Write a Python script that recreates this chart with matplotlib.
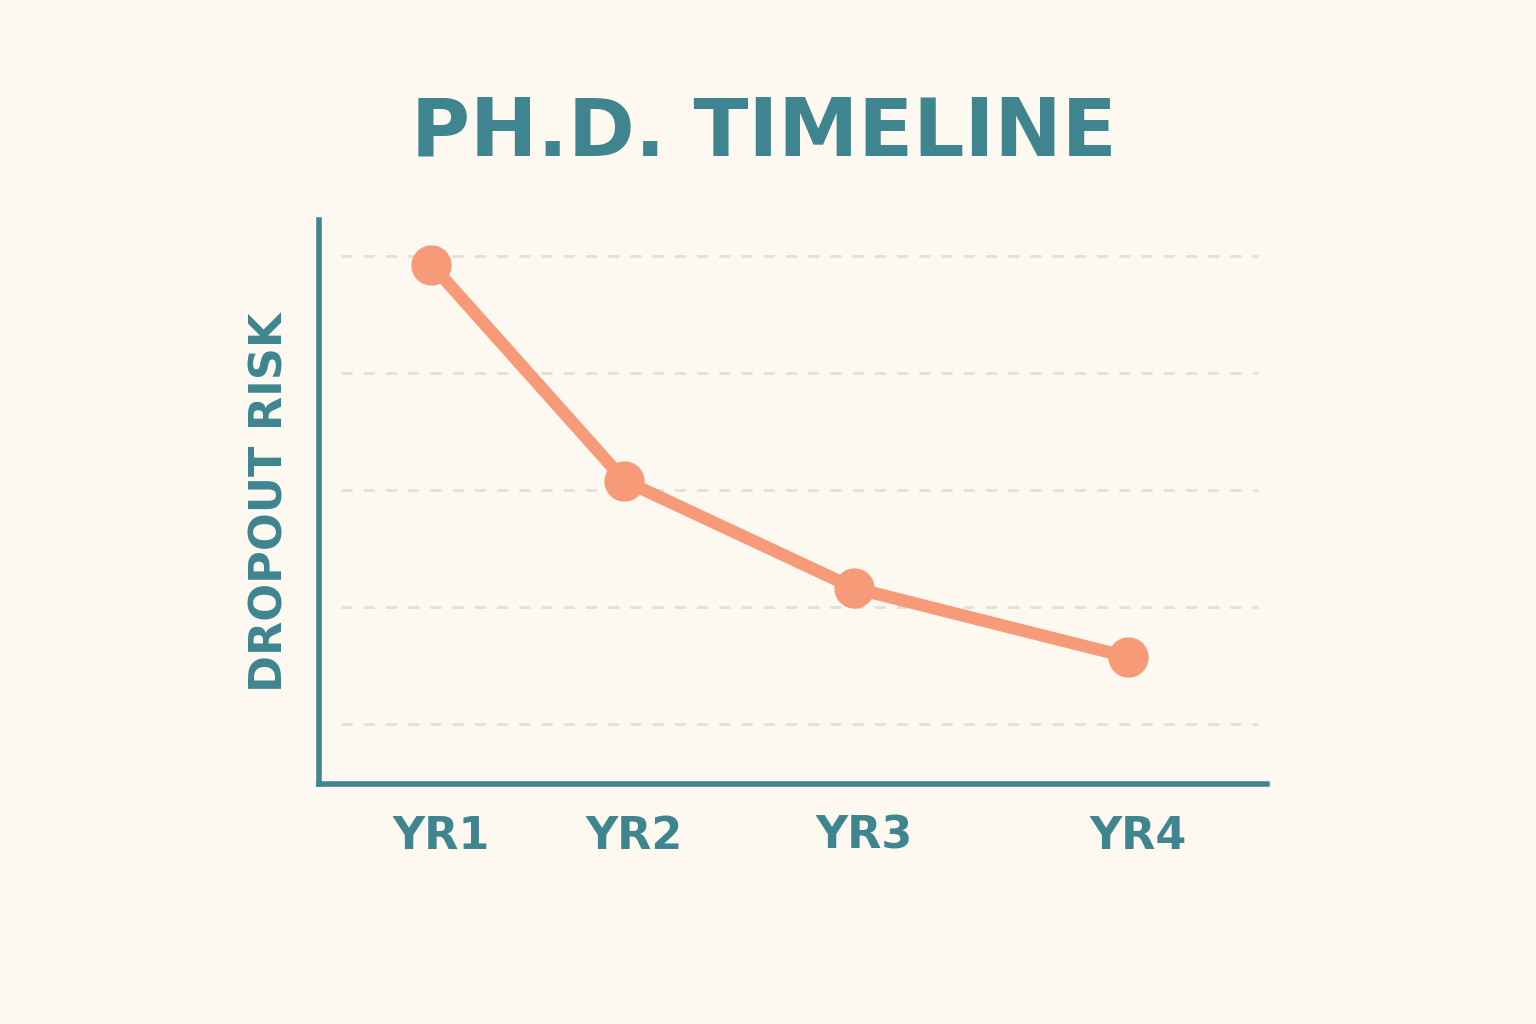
import matplotlib.pyplot as plt

# chart data
years = ['YR1', 'YR2', 'YR3', 'YR4']
year_pos = [0, 1, 2.19, 3.61]
risk = [4.93, 3.08, 2.16, 1.57]
grid_levels = [1, 2, 3, 4, 5]

teal = '#3e8590'
orange = '#f79a78'
bg = '#fdf9f0'

fig = plt.figure(figsize=(15.36, 10.24), dpi=100, facecolor=bg)
ax = fig.add_axes([0.208, 0.234, 0.617, 0.551], facecolor=bg)

ax.hlines(grid_levels, -0.47, 4.28, colors='#e2e0da', linestyles=(0, (4, 4)), linewidth=2)
ax.plot(year_pos, risk, color=orange, linewidth=9, marker='o', markersize=28, zorder=3)

ax.set_xlim(-0.58, 4.33)
ax.set_ylim(0.48, 5.31)
for s in ['top', 'right']:
    ax.spines[s].set_visible(False)
for s in ['left', 'bottom']:
    ax.spines[s].set_color(teal)
    ax.spines[s].set_linewidth(4)

ax.set_yticks([])
ax.set_xticks([p + 0.05 for p in year_pos])
ax.set_xticklabels(years, fontsize=32, fontweight='bold', color=teal)
ax.tick_params(axis='x', length=0, pad=22)
ax.set_ylabel('DROPOUT RISK', fontsize=32, fontweight='bold', color=teal, labelpad=20)

fig.text(0.497, 0.87, 'PH.D. TIMELINE', fontsize=58, fontweight='bold', color=teal,
         ha='center', va='center')

fig.savefig('out.png', facecolor=bg)
